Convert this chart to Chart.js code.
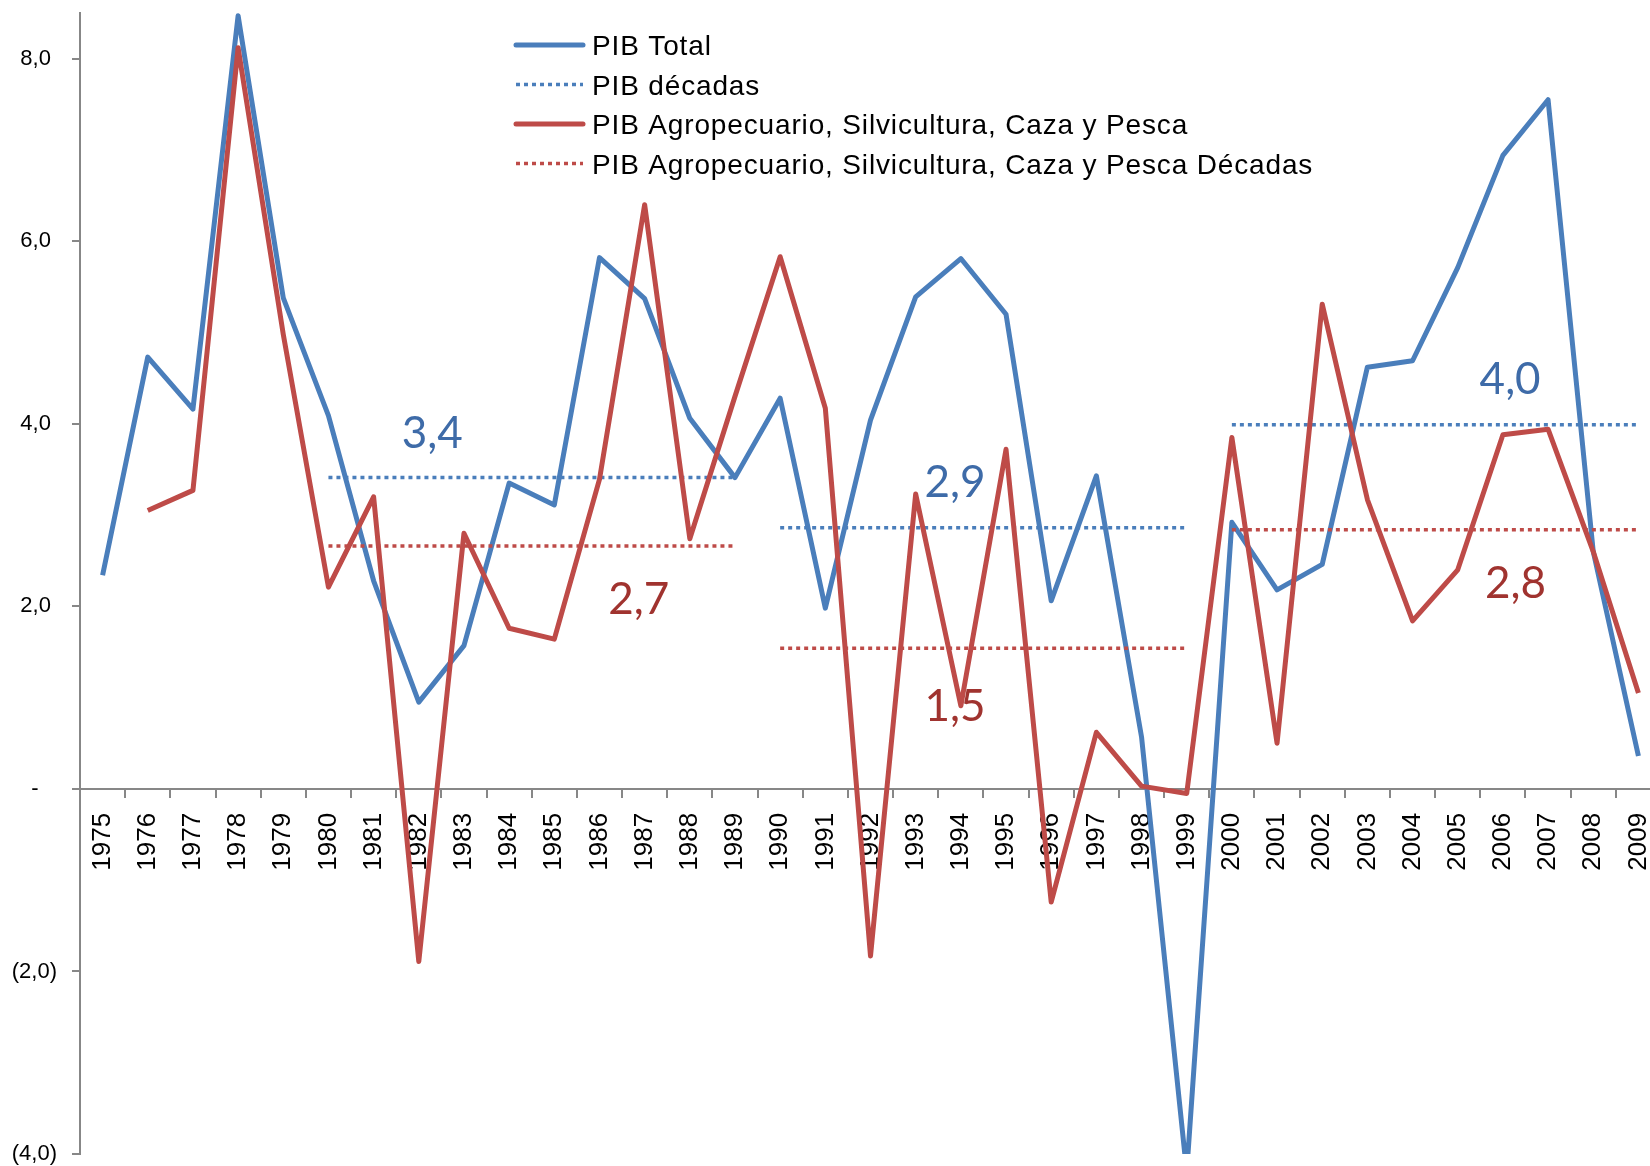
<!DOCTYPE html>
<html>
<head>
<meta charset="utf-8">
<script src="https://cdn.jsdelivr.net/npm/chart.js@4/dist/chart.umd.min.js"></script>
<style>
html, body { margin: 0; padding: 0; overflow: hidden; background: #ffffff; width: 1650px; height: 1166px; }
canvas { display: block; }
</style>
</head>
<body>
<canvas id="chart" width="1661" height="1166"></canvas>
<script>
// ---------------- data ----------------
const years = ['1975','1976','1977','1978','1979','1980','1981','1982','1983','1984',
               '1985','1986','1987','1988','1989','1990','1991','1992','1993','1994',
               '1995','1996','1997','1998','1999','2000','2001','2002','2003','2004',
               '2005','2006','2007','2008','2009'];

const pibTotal = [2.34, 4.73, 4.16, 8.47, 5.38, 4.09, 2.28, 0.95, 1.57, 3.35,
                  3.11, 5.82, 5.37, 4.06, 3.41, 4.28, 1.98, 4.04, 5.39, 5.81,
                  5.20, 2.06, 3.43, 0.57, -4.20, 2.92, 2.18, 2.46, 4.62, 4.69,
                  5.71, 6.94, 7.55, 2.60, 0.36];

const pibAgro = [null, 3.05, 3.27, 8.12, 4.98, 2.21, 3.20, -1.89, 2.80, 1.76,
                 1.64, 3.39, 6.40, 2.74, 4.30, 5.83, 4.17, -1.83, 3.23, 0.91,
                 3.72, -1.24, 0.62, 0.03, -0.05, 3.85, 0.50, 5.31, 3.17, 1.84,
                 2.40, 3.88, 3.94, 2.60, 1.05];

const decadeStarts = ['1980', '1990', '2000'];
const pibTotalDecadas = [3.41, 2.86, 3.99];
const pibAgroDecadas = [2.66, 1.54, 2.84];

const yTickValues = [-4, -2, 0, 2, 4, 6, 8];
const yTickLabels = ['(4,0)', '(2,0)', '-   ', '2,0 ', '4,0 ', '6,0 ', '8,0 '];

const seriesNames = [
  'PIB Total',
  'PIB décadas',
  'PIB Agropecuario, Silvicultura, Caza y Pesca',
  'PIB Agropecuario, Silvicultura, Caza y Pesca Décadas'
];

// ---------------- styles ----------------
const BLUE = '#4A7EBB';
const RED = '#BE4B48';
const BLUE_TXT = '#3E6BA8';
const RED_TXT = '#A0332F';
const AXIS = '#878787';
const DOT = [4, 4];

function decadeData(avgs) {
  return decadeStarts.map((start, d) => {
    const i0 = years.indexOf(start);
    return years.map((y, i) => (i >= i0 && i < i0 + 10) ? avgs[d] : null);
  });
}

const datasets = [];
datasets.push({ label: seriesNames[0], data: pibTotal, borderColor: BLUE, borderWidth: 5, order: 3, legendIdx: 0 });
decadeData(pibTotalDecadas).forEach((d, k) => datasets.push({
  label: seriesNames[1], data: d, borderColor: BLUE, borderWidth: 3.5, borderDash: DOT, order: 2,
  borderCapStyle: 'butt', legendIdx: k === 0 ? 1 : null
}));
datasets.push({ label: seriesNames[2], data: pibAgro, borderColor: RED, borderWidth: 5, order: 1, legendIdx: 2 });
decadeData(pibAgroDecadas).forEach((d, k) => datasets.push({
  label: seriesNames[3], data: d, borderColor: RED, borderWidth: 3.5, borderDash: DOT, order: 0,
  borderCapStyle: 'butt', legendIdx: k === 0 ? 3 : null
}));
datasets.forEach(ds => {
  ds.pointRadius = 0; ds.tension = 0; ds.fill = false; ds.spanGaps = false;
  ds.borderJoinStyle = 'round';
});

// ---------------- plugins ----------------
const excelLegend = {
  id: 'excelLegend',
  afterDraw(chart, args, opts) {
    const ctx = chart.ctx;
    ctx.save();
    const items = chart.data.datasets.filter(d => d.legendIdx !== null && d.legendIdx !== undefined)
      .sort((a, b) => a.legendIdx - b.legendIdx);
    items.forEach((ds, i) => {
      const y = opts.top + i * opts.rowHeight;
      ctx.beginPath();
      ctx.strokeStyle = ds.borderColor;
      ctx.lineWidth = ds.borderDash ? 3.5 : 5;
      ctx.setLineDash(ds.borderDash || []);
      ctx.lineCap = ds.borderDash ? 'butt' : 'round';
      ctx.moveTo(opts.left, y);
      ctx.lineTo(opts.left + opts.sampleWidth, y);
      ctx.stroke();
      ctx.setLineDash([]);
      ctx.fillStyle = '#000000';
      ctx.font = opts.font;
      if ('letterSpacing' in ctx) ctx.letterSpacing = opts.letterSpacing;
      ctx.textAlign = 'left';
      ctx.textBaseline = 'alphabetic';
      ctx.fillText(ds.label, opts.left + opts.sampleWidth + opts.gap, y + opts.baselineShift);
    });
    ctx.restore();
  }
};

const decadeLabels = {
  id: 'decadeLabels',
  afterDatasetsDraw(chart, args, opts) {
    const ctx = chart.ctx;
    const xs = chart.scales.x, ys = chart.scales.y;
    ctx.save();
    ctx.font = opts.font;
    ctx.textAlign = 'center';
    ctx.textBaseline = 'alphabetic';
    const draw = (vals, anchors, color) => {
      vals.forEach((v, i) => {
        const [xi, yv] = anchors[i];
        ctx.fillStyle = color;
        ctx.fillText(v.toFixed(1).replace('.', ','), xs.getPixelForValue(xi), ys.getPixelForValue(yv));
      });
    };
    draw(pibTotalDecadas, opts.blueAnchors, BLUE_TXT);
    draw(pibAgroDecadas, opts.redAnchors, RED_TXT);
    ctx.restore();
  }
};

// ---------------- chart ----------------
new Chart(document.getElementById('chart'), {
  type: 'line',
  data: { labels: years, datasets: datasets },
  options: {
    responsive: false,
    animation: false,
    devicePixelRatio: 1,
    layout: { padding: { top: 13, bottom: 12, left: 0, right: 0 } },
    plugins: {
      legend: { display: false },
      tooltip: { enabled: false },
      excelLegend: {
        left: 516, top: 45, rowHeight: 39.5, sampleWidth: 67, gap: 9, baselineShift: 10,
        font: '28px "Liberation Sans", Arial, sans-serif', letterSpacing: '0.85px'
      },
      decadeLabels: {
        font: '44px Lato, "Open Sans", sans-serif',
        blueAnchors: [[7.30, 3.73], [18.87, 3.20], [31.16, 4.33]],
        redAnchors: [[11.87, 1.92], [18.87, 0.74], [31.28, 2.09]]
      }
    },
    scales: {
      x: {
        type: 'category',
        offset: true,
        position: { y: 0 },
        grid: { offset: true, drawOnChartArea: false, drawTicks: true, tickLength: 8, color: AXIS, lineWidth: 2 },
        border: { display: true, color: AXIS, width: 2 },
        ticks: {
          autoSkip: false, minRotation: 90, maxRotation: 90, padding: 16,
          color: '#000000', font: { family: '"Liberation Sans", Arial, sans-serif', size: 26 }
        },
        afterFit(s) { s.paddingLeft = 0; s.paddingRight = 0; s.paddingTop = 0; s.paddingBottom = 0; }
      },
      y: {
        type: 'linear',
        min: -4, max: 8.5,
        afterBuildTicks(s) { s.ticks = yTickValues.map(v => ({ value: v })); },
        afterFit(s) { s.width = 80; s.paddingTop = 0; s.paddingBottom = 0; s.paddingLeft = 0; s.paddingRight = 0; },
        grid: { drawOnChartArea: false, drawTicks: true, tickLength: 8, color: AXIS, lineWidth: 2 },
        border: { display: true, color: AXIS, width: 2 },
        ticks: {
          padding: 15, color: '#000000',
          font: { family: '"Liberation Sans", Arial, sans-serif', size: 22 },
          callback: (v) => { const i = yTickValues.indexOf(v); return i >= 0 ? yTickLabels[i] : ''; }
        }
      }
    }
  },
  plugins: [excelLegend, decadeLabels]
});
</script>
</body>
</html>
